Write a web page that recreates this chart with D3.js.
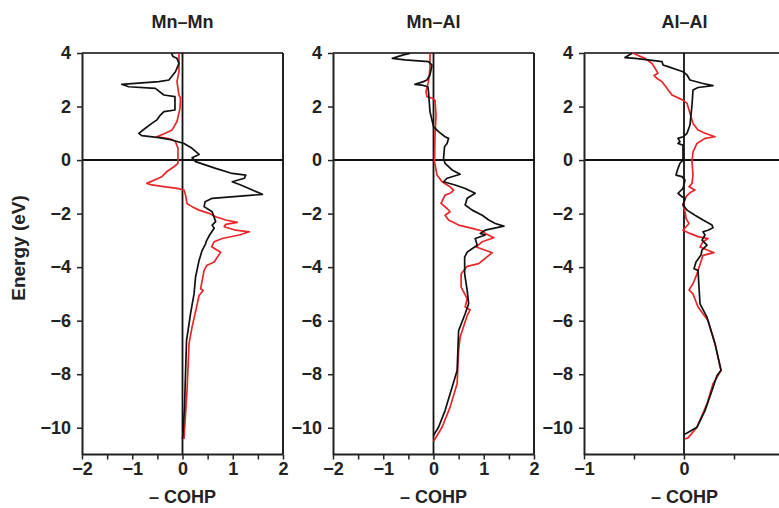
<!DOCTYPE html>
<html><head><meta charset="utf-8">
<script src="https://cdn.jsdelivr.net/npm/d3@7"></script>
<style>
html,body{margin:0;padding:0;background:#fff;}
svg{display:block;font-family:"Liberation Sans",Arial,Helvetica,sans-serif;}
</style></head>
<body><svg id="c" width="779" height="508"></svg>
<script>
// ---------- DATA: [energy (eV), -COHP] ----------
const panelTitles = ["Mn\u2013Mn", "Mn\u2013Al", "Al\u2013Al"];
const yTicks = [4, 2, 0, -2, -4, -6, -8, -10];
const xTicks12 = [-2, -1.5, -1, -0.5, 0, 0.5, 1, 1.5, 2];
const xTicks3 = [-1, -0.5, 0, 0.5];

const mnMnBlack = [[3.99,-0.22],[3.87,-0.19],[3.8,-0.11],[3.61,-0.07],[3.3,-0.14],[2.99,-0.27],[2.93,-0.47],[2.83,-1.21],[2.74,-1.07],[2.68,-0.54],[2.43,-0.37],[2.37,-0.15],[1.87,-0.15],[1.81,-0.37],[1.68,-0.44],[1.5,-0.51],[1.37,-0.61],[1.19,-0.74],[1.0,-0.87],[0.91,-0.81],[0.84,-0.47],[0.75,-0.21],[0.62,0.03],[0.44,0.19],[0.21,0.33],[0.09,0.19],[-0.06,0.26],[-0.31,0.66],[-0.5,0.99],[-0.56,1.26],[-0.68,1.23],[-0.81,0.99],[-0.93,1.16],[-1.12,1.39],[-1.28,1.59],[-1.43,0.59],[-1.56,0.45],[-1.74,0.43],[-1.93,0.59],[-2.3,0.66],[-2.43,0.59],[-2.55,0.63],[-2.8,0.54],[-3.05,0.47],[-3.13,0.46],[-3.38,0.39],[-3.75,0.33],[-4.37,0.26],[-5.0,0.23],[-5.74,0.16],[-6.37,0.11],[-6.74,0.08],[-9.23,0.04],[-10.23,0.01],[-10.42,0]];
const mnMnRed = [[3.99,-0.07],[3.3,-0.07],[2.93,-0.11],[2.43,-0.07],[2.31,-0.04],[1.93,-0.05],[1.44,-0.11],[1.12,-0.21],[1.0,-0.34],[0.87,-0.51],[0.79,-0.24],[0.69,-0.14],[0.44,-0.09],[-0.12,-0.09],[-0.25,-0.17],[-0.43,-0.31],[-0.62,-0.41],[-0.87,-0.71],[-0.93,-0.61],[-1.0,-0.34],[-1.06,-0.11],[-1.12,0.03],[-1.31,0.06],[-1.62,0.09],[-1.74,0.19],[-1.87,0.33],[-1.99,0.53],[-2.12,0.66],[-2.24,0.86],[-2.33,1.09],[-2.4,0.86],[-2.49,0.83],[-2.62,1.06],[-2.68,1.33],[-2.8,1.13],[-2.93,0.79],[-3.05,0.63],[-3.24,0.58],[-3.44,0.76],[-3.81,0.63],[-3.94,0.48],[-4.12,0.43],[-4.81,0.36],[-4.87,0.41],[-5.06,0.33],[-5.49,0.28],[-6.24,0.19],[-6.86,0.13],[-8.61,0.09],[-10.1,0.04],[-10.42,0.03]];

const mnAlBlack = [[3.98,-0.47],[3.93,-0.6],[3.8,-0.82],[3.74,-0.57],[3.68,-0.1],[3.55,-0.03],[3.18,-0.07],[2.99,-0.13],[2.93,-0.2],[2.83,-0.37],[2.8,-0.23],[2.74,-0.11],[2.56,-0.1],[1.81,-0.07],[1.25,0],[1.06,0.1],[0.87,0.23],[0.81,0.3],[0.62,0.27],[0.5,0.22],[0.06,0.2],[-0.12,0.23],[-0.37,0.37],[-0.53,0.53],[-0.68,0.27],[-0.81,0.2],[-0.93,0.43],[-1.06,0.63],[-1.24,0.83],[-1.43,0.67],[-1.68,0.63],[-1.87,0.77],[-2.06,0.97],[-2.24,1.1],[-2.37,1.23],[-2.47,1.4],[-2.62,1.03],[-2.74,0.93],[-2.8,1.03],[-2.93,0.83],[-3.18,0.87],[-3.36,0.73],[-3.44,0.67],[-3.63,0.62],[-4.25,0.62],[-4.87,0.67],[-5.37,0.7],[-5.74,0.63],[-6.37,0.5],[-7.86,0.47],[-8.49,0.37],[-9.36,0.23],[-9.98,0.1],[-10.23,0.02],[-10.3,0]];
const mnAlRed = [[3.99,-0.07],[3.43,-0.07],[2.93,-0.1],[2.56,-0.15],[2.37,-0.13],[2.31,-0.03],[2.24,0.03],[1.68,0.05],[0.93,0.03],[-0.06,0.02],[-0.56,0.07],[-0.81,0.17],[-1.0,0.33],[-1.12,0.4],[-1.24,0.33],[-1.31,0.23],[-1.62,0.15],[-1.81,0.27],[-1.93,0.33],[-2.06,0.23],[-2.24,0.3],[-2.43,0.5],[-2.55,0.77],[-2.65,0.97],[-2.74,1.03],[-2.9,1.2],[-3.05,0.97],[-3.25,0.85],[-3.46,1.17],[-3.87,0.9],[-3.97,0.67],[-4.25,0.55],[-4.75,0.55],[-5.18,0.67],[-5.49,0.63],[-5.59,0.73],[-5.81,0.67],[-6.62,0.53],[-7.11,0.5],[-8.36,0.47],[-9.23,0.33],[-9.98,0.17],[-10.42,0.03],[-10.5,0]];

const alAlBlack = [[3.99,-0.52],[3.83,-0.59],[3.8,-0.49],[3.74,-0.36],[3.68,-0.22],[3.55,-0.21],[3.49,-0.16],[3.3,-0.01],[3.18,0.03],[2.99,0.06],[2.87,0.18],[2.78,0.29],[2.71,0.14],[2.62,0.09],[2.06,0.08],[1.31,0.06],[1.0,0.03],[0.87,-0.01],[0.81,-0.06],[0.69,-0.04],[0.62,-0.06],[0.56,-0.01],[0,-0.01],[-0.12,-0.04],[-0.31,-0.06],[-0.56,-0.08],[-0.62,-0.02],[-0.75,0.01],[-1.06,-0.01],[-1.24,-0.06],[-1.37,-0.02],[-1.43,0.01],[-1.68,-0.01],[-1.87,0.03],[-2.06,0.11],[-2.24,0.19],[-2.43,0.28],[-2.53,0.29],[-2.62,0.24],[-2.68,0.19],[-2.8,0.21],[-2.99,0.18],[-3.18,0.23],[-3.36,0.18],[-3.55,0.17],[-3.81,0.12],[-4.06,0.1],[-4.12,0.14],[-5.37,0.16],[-5.87,0.23],[-6.86,0.31],[-7.85,0.37],[-8.05,0.33],[-8.61,0.28],[-9.36,0.21],[-9.98,0.13],[-10.2,0.03],[-10.25,0]];
const alAlRed = [[3.99,-0.51],[3.8,-0.39],[3.61,-0.32],[3.43,-0.29],[3.24,-0.26],[3.16,-0.3],[3.05,-0.27],[2.93,-0.22],[2.68,-0.17],[2.43,-0.12],[2.24,-0.01],[2.12,0.03],[1.75,0.06],[1.37,0.09],[1.12,0.14],[1.0,0.21],[0.87,0.31],[0.81,0.21],[0.62,0.13],[0.31,0.09],[-0.06,0.08],[-0.56,0.09],[-0.87,0.08],[-1.0,0.05],[-1.12,0.11],[-1.19,0.07],[-1.37,0.02],[-1.68,-0.01],[-1.93,0.01],[-2.18,0.02],[-2.37,0.05],[-2.62,-0.01],[-2.74,0.06],[-2.86,0.14],[-2.93,0.24],[-3.05,0.19],[-3.25,0.16],[-3.46,0.3],[-3.56,0.19],[-4.25,0.13],[-4.62,0.09],[-4.85,0.05],[-5.0,0.09],[-5.49,0.14],[-5.99,0.24],[-6.86,0.31],[-7.86,0.37],[-8.36,0.29],[-9.11,0.23],[-9.98,0.13],[-10.38,0.04],[-10.42,0.01]];

// ---------- LAYOUT ----------
const svg = d3.select("#c");
const TXT = "#222";
const RED = "#e8262b";
const FS = 18;
const y = d3.scaleLinear().domain([-11, 4]).range([454.5, 53]);

const panels = [
  {title: panelTitles[0], dom: [-2, 2], range: [82, 283], ticks: xTicks12, black: mnMnBlack, red: mnMnRed, right: true},
  {title: panelTitles[1], dom: [-2, 2], range: [333, 534], ticks: xTicks12, black: mnAlBlack, red: mnAlRed, right: true},
  {title: panelTitles[2], dom: [-1, 1], range: [584, 784], ticks: xTicks3, black: alAlBlack, red: alAlRed, right: false}
];

const fmt = v => Number.isInteger(v) ? (v < 0 ? "\u2212" + Math.abs(v) : String(v)) : "";

panels.forEach(p => {
  const x = d3.scaleLinear().domain(p.dom).range(p.range);
  const g = svg.append("g");
  const x0 = p.range[0], x1 = Math.min(p.range[1], 779);

  // top & right frame
  g.append("line").attr("x1", x0).attr("x2", x1).attr("y1", y(4)).attr("y2", y(4))
    .attr("stroke", "#444").attr("stroke-width", 2);
  if (p.right) g.append("line").attr("x1", x1).attr("x2", x1).attr("y1", y(4)).attr("y2", y(-11))
    .attr("stroke", "#222").attr("stroke-width", 2);

  // zero lines
  g.append("line").attr("x1", x0).attr("x2", x1).attr("y1", y(0)).attr("y2", y(0))
    .attr("stroke", "#111").attr("stroke-width", 2);
  g.append("line").attr("x1", x(0)).attr("x2", x(0)).attr("y1", y(4)).attr("y2", y(-11))
    .attr("stroke", "#111").attr("stroke-width", 1.8);

  // curves
  const line = d3.line().x(d => x(d[1])).y(d => y(d[0]));
  g.append("path").datum(p.red).attr("d", line).attr("fill", "none")
    .attr("stroke", RED).attr("stroke-width", 1.7).attr("stroke-linejoin", "round");
  g.append("path").datum(p.black).attr("d", line).attr("fill", "none")
    .attr("stroke", "#111").attr("stroke-width", 1.7).attr("stroke-linejoin", "round");

  // x axis
  const ax = g.append("g").attr("transform", `translate(0,${y(-11)})`)
    .call(d3.axisBottom(x).tickValues(p.ticks).tickSize(5).tickSizeOuter(0).tickPadding(3).tickFormat(fmt));
  ax.select(".domain").attr("stroke", "#222").attr("stroke-width", 2)
    .attr("d", `M${x0},0H${x1}`);
  ax.selectAll(".tick line").attr("stroke", "#222").attr("stroke-width", 1.5);
  ax.selectAll(".tick text").attr("fill", TXT).attr("font-size", FS).attr("font-weight", "bold")
    .attr("font-family", '"Liberation Sans",Arial,sans-serif');

  // y axis
  const ay = g.append("g").attr("transform", `translate(${x0},0)`)
    .call(d3.axisLeft(y).tickValues(yTicks).tickSize(5).tickSizeOuter(0).tickPadding(6).tickFormat(fmt));
  ay.select(".domain").attr("stroke", "#222").attr("stroke-width", 2);
  ay.selectAll(".tick line").attr("stroke", "#222").attr("stroke-width", 1.5);
  ay.selectAll(".tick text").attr("fill", TXT).attr("font-size", FS).attr("font-weight", "bold")
    .attr("font-family", '"Liberation Sans",Arial,sans-serif');

  // title
  const cx = (p.range[0] + p.range[0] + 201) / 2;
  g.append("text").attr("x", cx).attr("y", 28).attr("text-anchor", "middle")
    .attr("font-size", FS).attr("font-weight", "bold").attr("fill", TXT).text(p.title);
  // x label
  g.append("text").attr("x", cx).attr("y", 503).attr("text-anchor", "middle")
    .attr("font-size", FS).attr("font-weight", "bold").attr("fill", TXT).text("\u2013 COHP");
});

svg.append("text").attr("transform", "translate(25,248) rotate(-90)").attr("text-anchor", "middle")
  .attr("font-size", 19).attr("font-weight", "bold").attr("fill", TXT).text("Energy (eV)");
</script></body></html>
